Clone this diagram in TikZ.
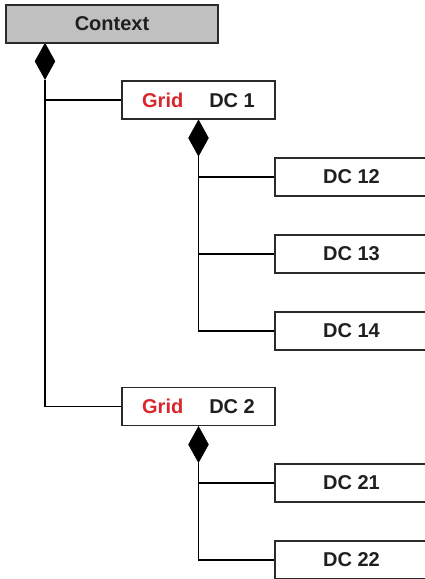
\documentclass[tikz,border=0pt]{standalone}
\usepackage{fontspec}
\setmainfont{Liberation Sans}
\usetikzlibrary{shapes.geometric}
\definecolor{boxgray}{HTML}{C0C0C0}
\definecolor{gridred}{HTML}{D8262C}
\definecolor{edgegray}{HTML}{2A2A2A}
\begin{document}
\begin{tikzpicture}[x=1pt,y=-1pt,
  box/.style={draw=edgegray, line width=1.4pt, fill=white, minimum height=38pt,
    inner sep=0pt, font=\fontsize{20}{24}\selectfont\bfseries, text=black!88},
  rootbox/.style={box, fill=boxgray, minimum width=212pt},
  gridbox/.style={box, minimum width=153pt},
  leafbox/.style={box, minimum width=153pt},
  comp/.style={diamond, fill=black, draw=black, line width=0.6pt, minimum width=20pt,
    minimum height=36pt, inner sep=0pt, anchor=north},
  link/.style={draw=black, line width=1.5pt}]
\clip (0,0) rectangle (425,579);
\path[use as bounding box] (0,0) rectangle (425,579);
\fill[white] (0,0) rectangle (425,579);

% connectors first (under boxes)
\coordinate (c0) at (45,43);
\node[comp] (d0) at (c0) {};
\node[gridbox] (g1) at (198.5,100) {{\color{gridred}Grid}\hspace{26pt}DC 1};
\node[gridbox] (g2) at (198.5,406.5) {{\color{gridred}Grid}\hspace{26pt}DC 2};
\node[comp] (d1) at (g1.south) {};
\node[comp] (d2) at (g2.south) {};

\node[leafbox] (l12) at (351.5,177) {DC 12};
\node[leafbox] (l13) at (351.5,254) {DC 13};
\node[leafbox] (l14) at (351.5,331) {DC 14};
\node[leafbox] (l21) at (351.5,483) {DC 21};
\node[leafbox] (l22) at (351.5,560) {DC 22};

\node[rootbox] (ctx) at (112,24) {Context};

\draw[link] (d0.south) |- (g1.west);
\draw[link] (d0.south) |- (g2.west);
\draw[link] (d1.south) |- (l12.west);
\draw[link] (d1.south) |- (l13.west);
\draw[link] (d1.south) |- (l14.west);
\draw[link] (d2.south) |- (l21.west);
\draw[link] (d2.south) |- (l22.west);
\end{tikzpicture}
\end{document}
